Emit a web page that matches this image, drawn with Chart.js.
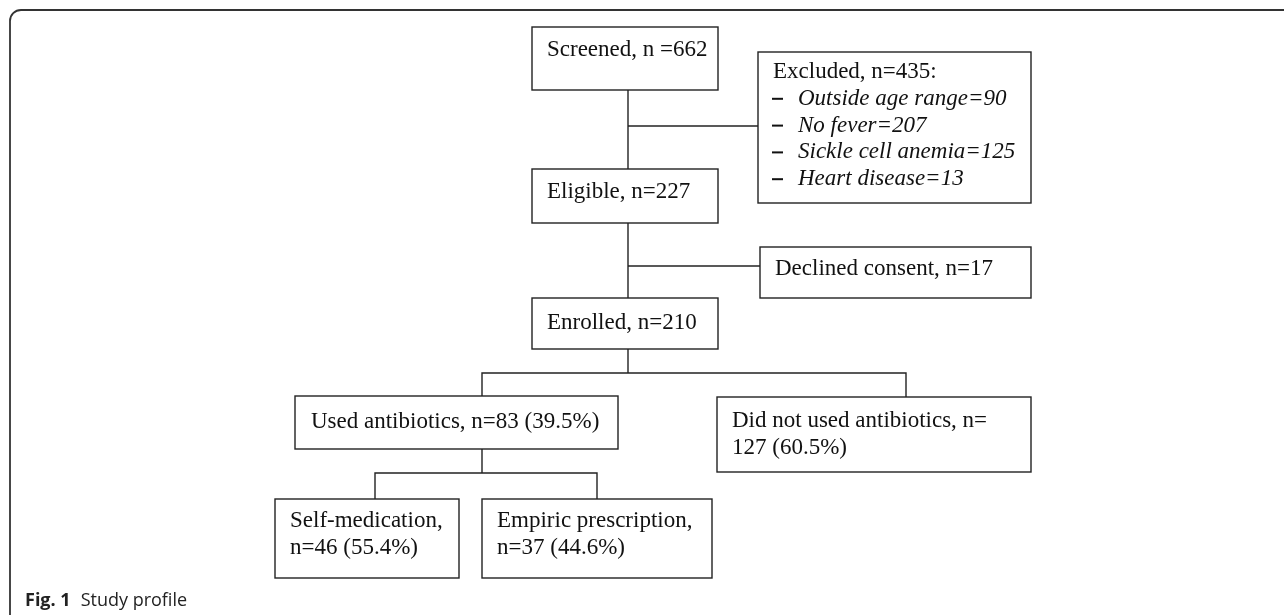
<!DOCTYPE html>
<html>
<head>
<meta charset="utf-8">
<script src="https://cdn.jsdelivr.net/npm/chart.js@4/dist/chart.umd.min.js"></script>
<style>
html, body { margin: 0; padding: 0; background: #fff; }
#flowCanvas { display: block; }
</style>
</head>
<body>
<canvas id="flowCanvas" width="1284" height="615"></canvas>
<script>
// study profile numbers (one entry per box)
var stageNames = ["Screened", "Excluded", "Eligible", "Declined consent", "Enrolled",
    "Used antibiotics", "Did not used antibiotics", "Self-medication", "Empiric prescription"];
var stageCounts = [662, 435, 227, 17, 210, 83, 127, 46, 37];
var stagePercents = [null, null, null, null, null, 39.5, 60.5, 55.4, 44.6];

// reasons listed in the "Excluded" box
var excludedReasons = ["Outside age range", "No fever", "Sickle cell anemia", "Heart disease"];
var excludedCounts = [90, 207, 125, 13];

var captionLabel = "Fig. 1";
var captionText = "Study profile";

// layout of the boxes, in canvas units (edges, text start, y of first text line)
var boxLayout = [
    { x0: 532, x1: 718, y0: 27, y1: 90, tx: 547, ty: 50 },
    { x0: 758, x1: 1031, y0: 52, y1: 203, tx: 773, ty: 72 },
    { x0: 532, x1: 718, y0: 169, y1: 223, tx: 547, ty: 192 },
    { x0: 760, x1: 1031, y0: 247, y1: 298, tx: 775, ty: 269 },
    { x0: 532, x1: 718, y0: 298, y1: 349, tx: 547, ty: 323 },
    { x0: 295, x1: 618, y0: 396, y1: 449, tx: 311, ty: 422 },
    { x0: 717, x1: 1031, y0: 397, y1: 472, tx: 732, ty: 421 },
    { x0: 275, x1: 459, y0: 499, y1: 578, tx: 290, ty: 521 },
    { x0: 482, x1: 712, y0: 499, y1: 578, tx: 497, ty: 521 }
];

// connector polylines
var connectors = [
    [[628, 90], [628, 169]],
    [[628, 126], [758, 126]],
    [[628, 223], [628, 298]],
    [[628, 266], [760, 266]],
    [[628, 349], [628, 373]],
    [[482, 396], [482, 373], [906, 373], [906, 397]],
    [[482, 449], [482, 473]],
    [[375, 499], [375, 473], [597, 473], [597, 499]]
];

var lineGap = 26.8;
var boxFont = "23px 'Liberation Serif'";

// build the text lines of a box from the data
function boxLines(i) {
    var name = stageNames[i];
    var n = stageCounts[i];
    var p = stagePercents[i];
    if (i == 0)
        return [name + ", n =" + n];
    if (i == 1)
        return [name + ", n=" + n + ":"];
    if (i == 6)
        return [name + ", n=", n + " (" + p.toFixed(1) + "%)"];
    if (i == 7 || i == 8)
        return [name + ",", "n=" + n + " (" + p.toFixed(1) + "%)"];
    if (p != null)
        return [name + ", n=" + n + " (" + p.toFixed(1) + "%)"];
    return [name + ", n=" + n];
}

var flowPlugin = {
    id: "flowPlugin",
    afterDraw: function (chart) {
        var ctx = chart.ctx;
        var xs = chart.scales.x;
        var ys = chart.scales.y;
        function px(v) { return xs.getPixelForValue(v); }
        function py(v) { return ys.getPixelForValue(v); }

        ctx.save();

        // outer frame (top and left, rounded corner)
        ctx.strokeStyle = "#333";
        ctx.lineWidth = 1.8;
        ctx.beginPath();
        ctx.moveTo(px(10), py(615));
        ctx.lineTo(px(10), py(21));
        ctx.arcTo(px(10), py(10), px(21), py(10), 11);
        ctx.lineTo(px(1284), py(10));
        ctx.stroke();

        // connectors
        ctx.strokeStyle = "#222";
        ctx.lineWidth = 1.4;
        for (var c = 0; c < connectors.length; c++) {
            var pts = connectors[c];
            ctx.beginPath();
            ctx.moveTo(px(pts[0][0]), py(pts[0][1]));
            for (var k = 1; k < pts.length; k++)
                ctx.lineTo(px(pts[k][0]), py(pts[k][1]));
            ctx.stroke();
        }

        // boxes and their text
        ctx.textBaseline = "middle";
        ctx.textAlign = "left";
        for (var i = 0; i < boxLayout.length; i++) {
            var b = boxLayout[i];
            ctx.fillStyle = "#fff";
            ctx.fillRect(px(b.x0), py(b.y0), px(b.x1) - px(b.x0), py(b.y1) - py(b.y0));
            ctx.strokeRect(px(b.x0), py(b.y0), px(b.x1) - px(b.x0), py(b.y1) - py(b.y0));
            ctx.fillStyle = "#111";
            ctx.font = boxFont;
            var lines = boxLines(i);
            for (var l = 0; l < lines.length; l++)
                ctx.fillText(lines[l], px(b.tx), py(b.ty + l * lineGap));

            // list of exclusion reasons
            if (i == 1) {
                for (var r = 0; r < excludedReasons.length; r++) {
                    var yy = py(b.ty + (r + 1) * lineGap);
                    ctx.fillRect(px(b.x0 + 14), yy - 1, 11, 2);
                    ctx.font = "italic " + boxFont;
                    ctx.fillText(excludedReasons[r] + "=" + excludedCounts[r], px(b.x0 + 40), yy);
                }
            }
        }

        // caption
        ctx.fillStyle = "#222";
        ctx.font = "bold 18px 'Open Sans'";
        ctx.fillText(captionLabel, px(25), py(601));
        var w = ctx.measureText(captionLabel).width;
        ctx.font = "18px 'Open Sans'";
        ctx.fillText(captionText, px(25) + w + 10, py(601));

        ctx.restore();
    }
};

var chart = new Chart(document.getElementById("flowCanvas").getContext("2d"), {
    type: "scatter",
    data: { datasets: [{ data: [], pointRadius: 0 }] },
    options: {
        responsive: false,
        animation: false,
        events: [],
        layout: { padding: 0 },
        plugins: { legend: { display: false }, tooltip: { enabled: false } },
        scales: {
            x: { type: "linear", min: 0, max: 1284, display: false },
            y: { type: "linear", min: 0, max: 615, reverse: true, display: false }
        }
    },
    plugins: [flowPlugin]
});
</script>
</body>
</html>
